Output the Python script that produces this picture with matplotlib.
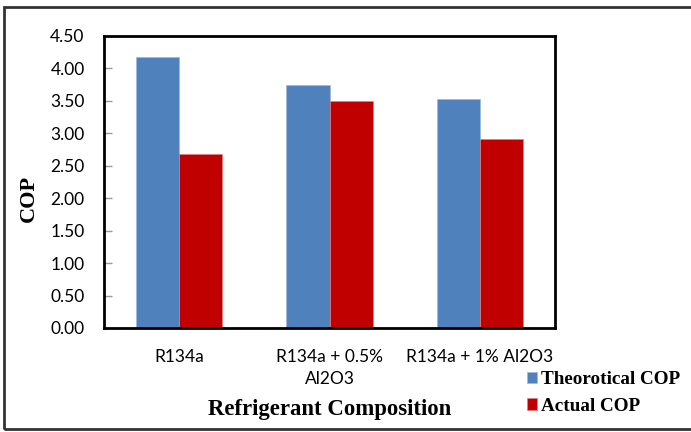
"""
Bar chart: theoretical vs actual COP for R134a blends
"""

import numpy as np
from matplotlib import pyplot as plt
from matplotlib.patches import Rectangle

# --------------------------------------------------------------------------------------------------
# Data
# --------------------------------------------------------------------------------------------------

categories = ['R134a', 'R134a + 0.5%\nAl2O3', 'R134a + 1% Al2O3']
theoretical_cop = [4.17, 3.74, 3.53]
actual_cop = [2.68, 3.50, 2.91]
y_ticks = [0.0, 0.5, 1.0, 1.5, 2.0, 2.5, 3.0, 3.5, 4.0, 4.5]

blue = '#4F81BD'
red = '#C00000'
serif = 'Liberation Serif'
sans = 'Lato'

# --------------------------------------------------------------------------------------------------
# Figure
# --------------------------------------------------------------------------------------------------

W, H = 691, 432
fig = plt.figure(figsize=(W / 100, H / 100), dpi=100)
ax = fig.add_axes([104 / W, 1 - 328 / H, 451 / W, 292 / H])

x = np.arange(len(categories))
w = 0.287
ax.bar(x - w / 2, theoretical_cop, w, color=blue, edgecolor='#9DB9DE', linewidth=0.5,
       label='Theorotical COP')
ax.bar(x + w / 2, actual_cop, w, color=red, edgecolor='#E08080', linewidth=0.5,
       label='Actual COP')

ax.set_xlim(-0.5, 2.5)
ax.set_ylim(0, 4.5)
ax.set_yticks(y_ticks)
ax.set_yticklabels([f'{v:.2f}' for v in y_ticks], fontfamily=sans, fontsize=12.5)
ax.set_xticks(x)
ax.set_xticklabels(categories, fontfamily=sans, fontsize=12.5, linespacing=1.45)
ax.tick_params(axis='x', length=0, pad=15)
ax.tick_params(axis='y', direction='in', length=6, width=1, color='#9A9A9A', pad=14)

for s in ax.spines.values():
    s.set_linewidth(2)
    s.set_color('black')

# Axis titles
fig.text(29 / W, 1 - 198 / H, 'COP', fontfamily=serif, fontweight='bold', fontsize=16,
         rotation=90, ha='center', va='center')
fig.text(330 / W, 1 - 410 / H, 'Refrigerant Composition', fontfamily=serif,
         fontweight='bold', fontsize=16.4, ha='center', va='center')

ax.legend(loc='center left', bbox_to_anchor=(517 / W, 1 - 393 / H),
          bbox_transform=fig.transFigure, frameon=False, handlelength=0.55,
          handleheight=0.55, handletextpad=0.2, labelspacing=0.5, borderpad=0,
          prop={'family': serif, 'weight': 'bold', 'size': 13.8})

# Outer chart border
fig.patches.append(Rectangle((4 / W, 1 - 429 / H), 700 / W, 422 / H,
                             transform=fig.transFigure, fill=False,
                             edgecolor='#333333', linewidth=2))

fig.savefig('out.png', dpi=100)
